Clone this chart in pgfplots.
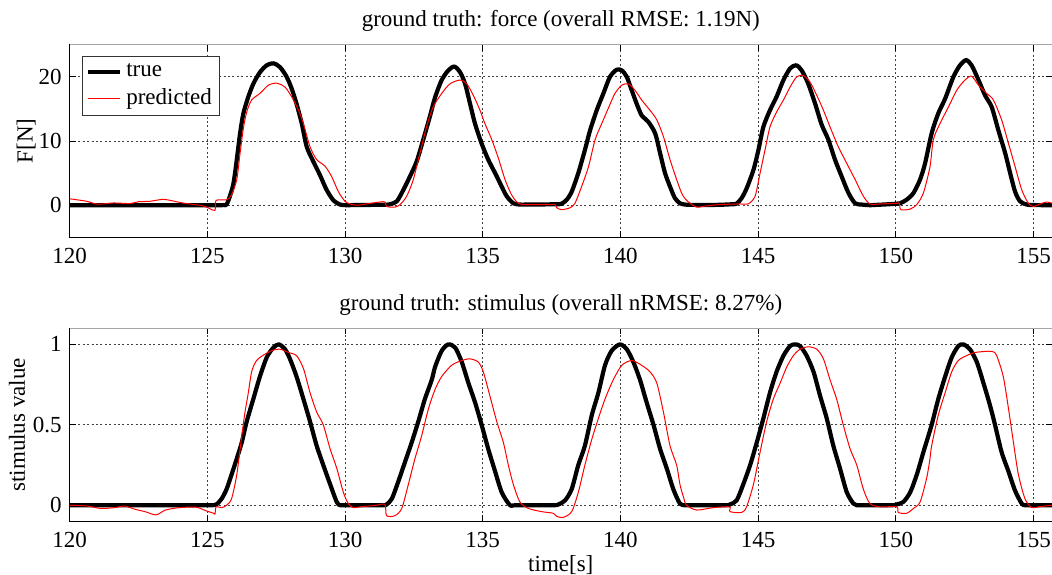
\documentclass[border=0pt]{standalone}
\usepackage{fontspec}
\setmainfont{Liberation Serif}
\usepackage{pgfplots}
\pgfplotsset{compat=1.18}
\newcommand{\cf}{\fontsize{11.5}{13.8}\selectfont}
\begin{document}
\cf
\begin{tikzpicture}
\useasboundingbox (0,0) rectangle (526pt,287pt);
\pgfplotsset{
  myaxis/.style={
    scale only axis, width=491.2pt, height=96.3pt, anchor=south west,
    xmin=120, xmax=155.67, xtick={120,125,...,155},
    grid=major,
    major grid style={black!75, dash pattern=on 1pt off 1.2pt, line width=0.4pt},
    axis line style={line width=0.5pt},
    tick style={black, line width=0.4pt},
    major tick length=3pt,
    tick align=inside,
    /pgf/number format/assume math mode=true,
    xticklabel={\cf\pgfmathprintnumber[assume math mode=true]{\tick}},
    yticklabel={\cf\pgfmathprintnumber[assume math mode=true]{\tick}},
    xticklabel style={yshift=-1.5pt},
    ticklabel style={font=\cf},
    label style={font=\cf},
    title style={font=\cf},
    every axis title shift=2.5pt,
    no markers,
  },
  truestyle/.style={black, line width=2.1pt, line join=round, smooth, tension=0.45},
  predstyle/.style={red, line width=0.5pt, line join=round, smooth, tension=0.45},
}
% ---------------- top: force ----------------
\begin{axis}[myaxis, at={(34.8pt,168.35pt)},
  ymin=-5, ymax=25, ytick={0,10,20},
  ylabel={F[N]}, ylabel style={yshift=-6.5pt},
  title={ground truth: force (overall RMSE: 1.19N)},
  legend style={at={(0,1)}, anchor=north west, xshift=6pt, yshift=-5.7pt,
    draw=black!80, line width=0.5pt, font=\cf, cells={anchor=west},
    inner xsep=2pt, inner ysep=1.5pt, row sep=0.5pt},
  legend image code/.code={\draw[#1, sharp plot] (0pt,0pt) -- (16pt,0pt);},
]
\addplot[truestyle] coordinates {
(120,0) (122.5,0) (125.2,0) (125.45,0) (125.6,0.02) (125.70,0.1) (125.82,1.4) (125.95,3.4) (126.07,7.1) (126.19,11.2)
(126.31,14.3) (126.49,16.9) (126.67,18.9) (126.91,20.7) (127.16,21.8) (127.40,22.1)
(127.64,21.5) (127.88,20.0) (128.06,18.2) (128.24,15.8) (128.43,12.7) (128.61,9.1)
(128.85,6.8) (129.09,4.7) (129.33,2.4) (129.58,0.75) (129.82,0.1) (130.06,0) (130.3,0.02)
(131.0,0.05) (131.45,0.08) (131.63,0.15) (131.88,0.6) (132.12,2.4) (132.36,4.5) (132.60,6.8)
(132.84,10.2) (133.08,13.8) (133.27,16.8) (133.51,19.5) (133.75,21.0) (133.97,21.6)
(134.18,20.7) (134.36,18.9) (134.54,15.8) (134.72,12.7) (134.96,9.6) (135.2,7.1)
(135.45,5.0) (135.69,2.9) (135.87,1.4) (136.11,0.3) (136.35,0.1) (136.6,0.1) (137.7,0.15) (137.87,0.25)
(138.05,0.85) (138.23,2.1) (138.47,5.0) (138.71,8.6) (138.90,11.7) (139.14,14.8)
(139.38,17.4) (139.62,20.0) (139.86,21.1) (140.05,21.0) (140.23,20.0) (140.41,17.9)
(140.59,15.8) (140.77,14.0) (141.01,13.0) (141.26,11.2) (141.44,8.1) (141.62,5.0)
(141.8,2.9) (141.98,1.1) (142.16,0.3) (142.35,0.1) (142.6,0.05) (143.5,0.05) (144.05,0.15) (144.22,0.25)
(144.40,1.1) (144.58,2.6) (144.83,5.5) (145.01,8.6) (145.19,12.2) (145.43,14.8)
(145.67,16.9) (145.92,19.5) (146.16,21.3) (146.38,21.8) (146.58,21.0) (146.82,18.9)
(147.07,15.8) (147.31,12.5) (147.55,10.2) (147.79,7.1) (148.03,4.5) (148.28,1.9)
(148.52,0.3) (148.76,0.1) (149.06,0) (149.3,0.05) (149.75,0.15) (149.91,0.2) (150.15,0.3) (150.39,0.85)
(150.64,1.9) (150.88,4.0) (151.06,6.5) (151.30,11.2) (151.54,14.3) (151.79,16.6)
(152.09,20.0) (152.33,21.8) (152.55,22.6) (152.75,21.8) (153.0,19.5) (153.24,17.1)
(153.48,15.3) (153.72,11.7) (153.97,8.1) (154.15,5.0) (154.33,2.1) (154.51,0.6)
(154.75,0.1) (155.0,0.02) (155.67,0)
};
\addlegendentry{true}
\addplot[predstyle] coordinates {
(120,1.0) (120.64,0.6) (121.0,0.15) (121.6,0.35) (122.2,0.25) (122.5,0.55) (122.9,0.6)
(123.35,0.9) (123.6,0.8) (124.1,0.35) (124.84,-0.1) (125.1,-0.55) (125.28,-0.8)
(125.32,0.75) (125.70,0.85) (125.88,1.6) (126.07,4.0) (126.19,8.1) (126.31,12.0)
(126.43,14.5) (126.61,16.4) (126.91,17.4) (127.22,18.7) (127.52,19.0) (127.82,18.4)
(128.06,16.9) (128.31,14.8) (128.49,12.7) (128.73,9.1) (128.97,7.1) (129.27,6.1)
(129.51,4.5) (129.76,2.1) (130.00,0.6) (130.18,0.2) (130.42,0) (130.79,0.2)
(131.27,0.5) (131.45,0.5) (131.51,-0.2) (131.81,-0.3) (132.0,0.1) (132.24,1.4)
(132.48,4.0) (132.72,8.1) (132.96,12.2) (133.2,15.3) (133.51,17.4) (133.81,18.9)
(134.18,19.5) (134.42,18.9) (134.66,17.1) (134.9,14.8) (135.08,12.7) (135.33,10.2)
(135.57,7.3) (135.81,4.0) (136.05,1.6) (136.29,0.3) (136.54,0.1) (137.0,0.1) (137.5,0.1) (137.63,0.1)
(137.69,-0.4) (137.87,-0.7) (138.17,-0.4) (138.35,0.3) (138.59,2.9) (138.84,6.0)
(139.08,10.2) (139.32,12.7) (139.56,15.1) (139.8,17.4) (140.05,18.7) (140.29,18.9)
(140.53,17.9) (140.77,16.4) (141.07,14.8) (141.32,13.3) (141.56,10.7) (141.8,7.1)
(142.04,4.0) (142.22,1.9) (142.35,1.0) (142.53,0.3) (142.77,-0.3) (143.13,-0.1)
(143.62,0.1) (144.34,0.2) (144.64,0.2) (144.89,1.4) (145.07,5.0) (145.25,8.6)
(145.43,12.2) (145.67,14.5) (145.92,16.4) (146.16,18.4) (146.40,20.0) (146.64,20.2)
(146.88,19.2) (147.13,17.1) (147.37,14.8) (147.61,12.2) (147.91,9.1) (148.22,6.5)
(148.52,4.0) (148.82,1.4) (149.06,0.2) (149.43,0.2) (149.8,0.25) (150.05,0.3) (150.13,0.3) (150.18,-0.7)
(150.52,-0.6) (150.76,0.1) (151.0,1.9) (151.24,6.0) (151.36,10.2) (151.6,12.7)
(151.91,15.3) (152.21,17.9) (152.51,19.5) (152.75,20.1) (153.0,18.7) (153.3,17.4)
(153.54,16.4) (153.84,13.3) (154.09,9.6) (154.33,6.0) (154.57,2.4) (154.81,0.3)
(154.99,-0.2) (155.24,0.2) (155.48,0.5) (155.67,0.3)
};
\addlegendentry{predicted}
\draw[gray!70, line width=0.6pt] (rel axis cs:0,1) -- (rel axis cs:1,1);
\end{axis}
% ---------------- bottom: stimulus ----------------
\begin{axis}[myaxis, at={(34.8pt,26.35pt)}, height=96.5pt,
  ymin=-0.1, ymax=1.1, ytick={0,0.5,1},
  ylabel={stimulus value}, ylabel style={yshift=-4pt},
  xlabel={time[s]}, xlabel style={yshift=4pt},
  title={ground truth: stimulus (overall nRMSE: 8.27\%)},
]
\addplot[truestyle] coordinates {
(120,0) (122.5,0) (124.9,0) (125.15,0) (125.33,0.005) (125.52,0.04) (125.7,0.1) (125.88,0.19) (126.07,0.29) (126.25,0.39)
(126.43,0.52) (126.67,0.66) (126.91,0.80) (127.16,0.92) (127.40,0.98) (127.6,1.0)
(127.82,0.97) (128.0,0.91) (128.24,0.80) (128.49,0.66) (128.73,0.52) (128.97,0.37)
(129.21,0.25) (129.46,0.13) (129.7,0.02) (129.82,0) (130.0,0) (131.35,0) (131.51,0.005) (131.7,0.04)
(131.94,0.15) (132.18,0.27) (132.42,0.39) (132.66,0.52) (132.9,0.66) (133.15,0.78)
(133.27,0.86) (133.51,0.96) (133.75,1.0) (134.0,0.98) (134.24,0.89) (134.48,0.76)
(134.72,0.64) (134.96,0.50) (135.2,0.35) (135.45,0.21) (135.69,0.08) (135.99,0) (136.2,0)
(137.55,0) (137.75,0.005) (137.99,0.03) (138.23,0.1) (138.47,0.25) (138.71,0.37) (138.96,0.56)
(139.2,0.70) (139.44,0.87) (139.68,0.96) (139.98,1.0) (140.23,0.97) (140.47,0.89)
(140.71,0.78) (140.95,0.64) (141.2,0.50) (141.44,0.35) (141.68,0.23) (141.92,0.1)
(142.16,0.01) (142.35,0) (142.55,0) (143.8,0) (143.98,0.005) (144.22,0.03) (144.46,0.13) (144.71,0.25)
(144.95,0.39) (145.19,0.54) (145.43,0.70) (145.67,0.83) (145.92,0.93) (146.16,0.99)
(146.34,1.0) (146.52,0.99) (146.76,0.93) (147.01,0.83) (147.25,0.68) (147.49,0.54)
(147.73,0.37) (147.97,0.23) (148.22,0.08) (148.46,0.01) (148.58,0) (148.75,0) (149.85,0) (150.03,0.005)
(150.27,0.02) (150.52,0.08) (150.76,0.19) (151.0,0.33) (151.3,0.50) (151.54,0.66)
(151.79,0.80) (152.03,0.92) (152.27,0.99) (152.45,1.0) (152.69,0.97) (152.94,0.89)
(153.18,0.76) (153.42,0.62) (153.6,0.50) (153.84,0.33) (154.09,0.21) (154.33,0.09)
(154.57,0.01) (154.69,0) (154.9,0) (155.67,0)
};
\addplot[predstyle] coordinates {
(120,0) (120.64,-0.005) (121.14,-0.02) (121.63,-0.015) (122.0,-0.005) (122.37,-0.025)
(122.74,-0.04) (123.14,-0.06) (123.48,-0.03) (123.98,-0.015) (124.59,-0.012)
(124.96,-0.035) (125.23,-0.05) (125.28,-0.055) (125.32,-0.01) (125.52,-0.015)
(125.7,0.0) (125.88,0.04) (126.07,0.19) (126.25,0.43) (126.37,0.58) (126.49,0.70)
(126.61,0.83) (126.79,0.90) (127.1,0.94) (127.4,0.965) (127.64,0.97) (127.94,0.95)
(128.24,0.93) (128.49,0.85) (128.73,0.70) (128.97,0.58) (129.21,0.50) (129.46,0.35)
(129.7,0.23) (129.94,0.08) (130.12,0.01) (130.3,-0.015) (130.55,-0.01) (131.15,0.0)
(131.45,0.005) (131.51,-0.065) (131.81,-0.065) (132.06,-0.02) (132.3,0.13)
(132.54,0.29) (132.78,0.43) (133.03,0.6) (133.27,0.72) (133.51,0.80) (133.87,0.87)
(134.24,0.90) (134.54,0.91) (134.84,0.89) (135.02,0.83) (135.26,0.68) (135.51,0.52)
(135.75,0.39) (135.93,0.25) (136.11,0.13) (136.35,0.02) (136.66,-0.02) (137.14,-0.04)
(137.56,-0.05) (137.69,-0.07) (137.93,-0.075) (138.23,-0.04) (138.47,0.08)
(138.71,0.25) (138.96,0.41) (139.2,0.54) (139.44,0.66) (139.74,0.78) (140.05,0.87)
(140.41,0.90) (140.77,0.87) (141.07,0.83) (141.32,0.76) (141.56,0.58) (141.8,0.37)
(142.04,0.25) (142.16,0.13) (142.29,0.05) (142.4,0.0) (142.77,-0.03) (143.37,-0.015)
(143.96,-0.01) (143.98,-0.04) (144.4,-0.045) (144.58,-0.01) (144.83,0.13)
(145.07,0.33) (145.31,0.52) (145.55,0.66) (145.8,0.76) (146.04,0.86) (146.28,0.93)
(146.52,0.97) (146.82,0.985) (147.13,0.97) (147.37,0.91) (147.61,0.78) (147.85,0.66)
(148.09,0.50) (148.34,0.35) (148.58,0.25) (148.82,0.1) (149.06,0.01) (149.43,-0.01)
(150.03,-0.01) (150.09,-0.045) (150.39,-0.05) (150.64,-0.02) (150.88,0.02)
(151.12,0.17) (151.24,0.29) (151.3,0.37) (151.54,0.56) (151.79,0.70) (152.03,0.83)
(152.27,0.90) (152.57,0.93) (152.88,0.95) (153.48,0.957) (153.66,0.93) (153.9,0.80)
(154.09,0.60) (154.27,0.39) (154.45,0.19) (154.69,0.04) (154.93,-0.015)
(155.18,-0.01) (155.67,0)
};
\draw[gray!70, line width=0.6pt] (rel axis cs:0,1) -- (rel axis cs:1,1);
\end{axis}
\end{tikzpicture}
\end{document}
